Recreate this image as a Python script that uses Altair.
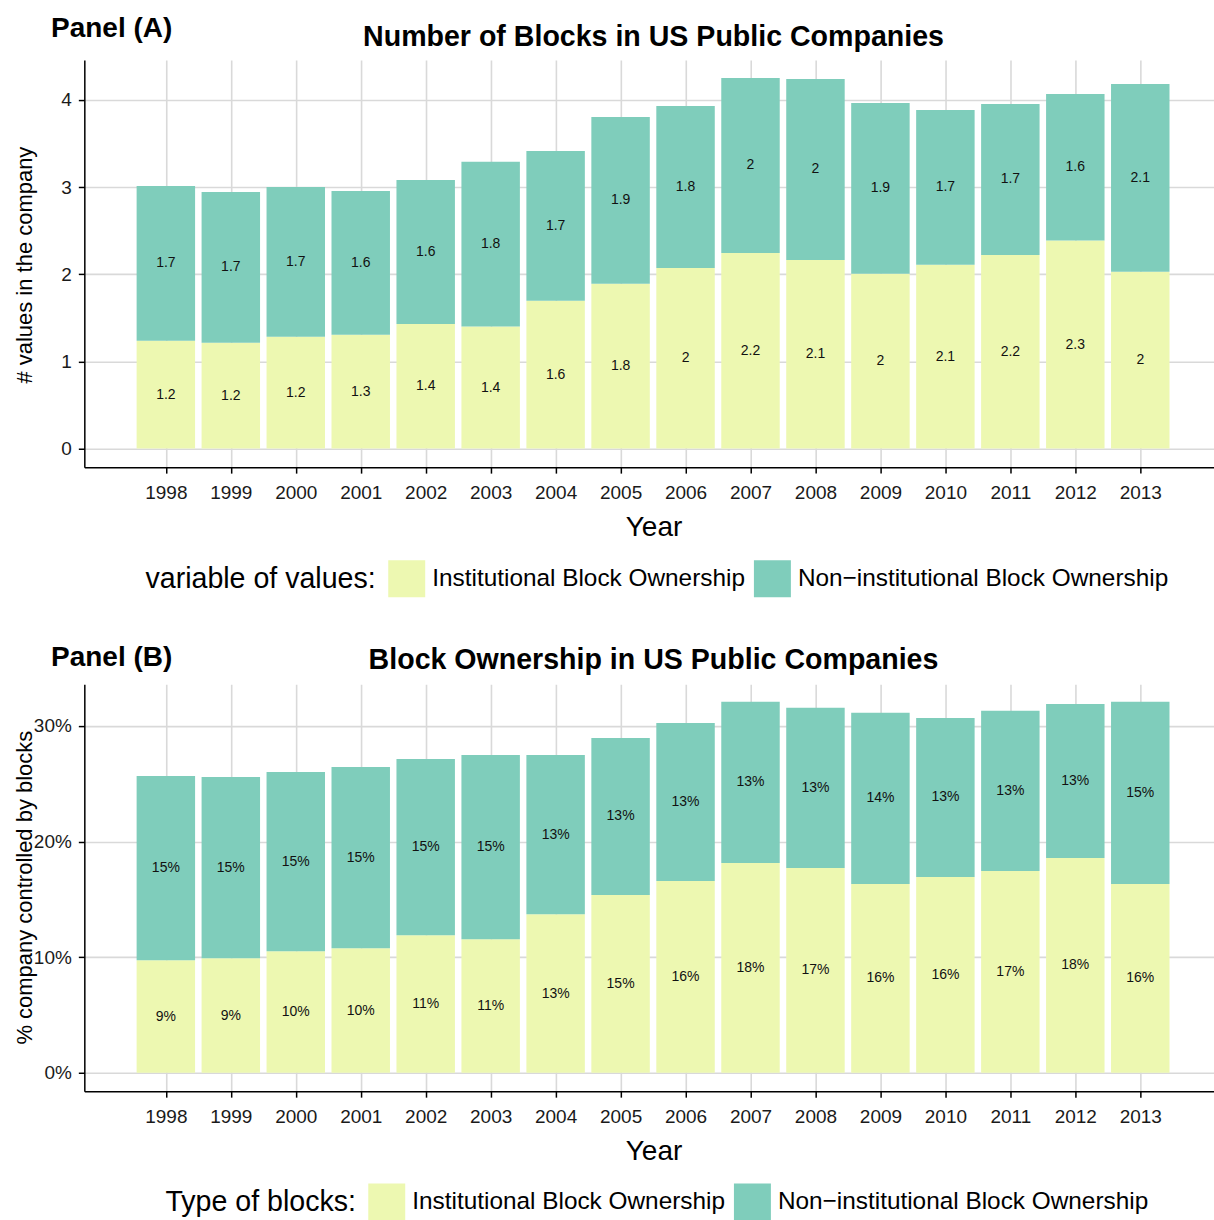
import altair as alt
import pandas as pd

FONT = "Liberation Sans"

years = list(range(1998, 2014))
groups = ["Institutional Block Ownership", "Non\u2212institutional Block Ownership"]
colors = ["#EDF8B1", "#7FCDBB"]

# Panel A: number of blocks per company
blocks_inst = [1.236, 1.215, 1.282, 1.305, 1.431, 1.400, 1.695, 1.890,
               2.073, 2.245, 2.165, 2.005, 2.108, 2.222, 2.387, 2.028]
blocks_noninst = [1.778, 1.730, 1.720, 1.651, 1.652, 1.890, 1.720, 1.915,
                  1.858, 2.007, 2.076, 1.961, 1.777, 1.732, 1.682, 2.155]

# Panel B: percentage of the company held by blocks
share_inst = [9.74, 9.91, 10.52, 10.78, 11.90, 11.56, 13.72, 15.37,
              16.58, 18.14, 17.71, 16.32, 16.93, 17.45, 18.57, 16.32]
share_noninst = [15.93, 15.67, 15.50, 15.67, 15.24, 15.93, 13.77, 13.59,
                 13.68, 13.94, 13.85, 14.81, 13.76, 13.85, 13.33, 15.76]


def long_table(inst, noninst):
    rows = []
    for i, y in enumerate(years):
        rows.append({"year": y, "group": groups[0], "order": 0, "value": inst[i]})
        rows.append({"year": y, "group": groups[1], "order": 1, "value": noninst[i]})
    return pd.DataFrame(rows)


X_DOMAIN = [1996.745, 2014.135]
W = 1130.7
H = 407.4
GRID = "#d9d9d9"


def heading(text, x, y, align, size):
    return alt.Chart(pd.DataFrame({"t": [text]})).mark_text(
        font=FONT, fontSize=size, fontWeight="bold", color="black",
        align=align, baseline="alphabetic",
    ).encode(text="t:N", x=alt.value(x), y=alt.value(y))


def panel(df, y_domain, y_ticks, y_label_expr, y_title, y_title_y, label_expr,
          title, title_y, tag, tag_y, legend_title, legend_x, legend_y):
    xscale = alt.Scale(domain=X_DOMAIN, nice=False, zero=False)
    yscale = alt.Scale(domain=y_domain, nice=False, zero=False)

    base = (
        alt.Chart(df)
        .transform_stack(stack="value", groupby=["year"], as_=["y0", "y1"],
                         sort=[alt.SortField("order", "ascending")])
        .transform_calculate(
            xl="datum.year - 0.45",
            xr="datum.year + 0.45",
            ymid="(datum.y0 + datum.y1) / 2",
            lab=label_expr,
        )
    )

    bars = base.mark_bar(strokeWidth=0).encode(
        x=alt.X("xl:Q", scale=xscale, axis=alt.Axis(
            values=years, format="d", title="Year",
            labelFontSize=19, labelPadding=10, labelColor="#1a1a1a",
            tickSize=6, tickColor="black", tickWidth=1.5,
            domainColor="black", domainWidth=1.5,
            grid=True, gridColor=GRID, gridWidth=1.6,
            titleFontSize=28, titleFontWeight="normal", titleColor="black",
            titleX=569.7, titleY=68.3, titleBaseline="alphabetic",
        )),
        x2="xr:Q",
        y=alt.Y("y0:Q", scale=yscale, axis=alt.Axis(
            values=y_ticks, labelExpr=y_label_expr, title=y_title,
            labelFontSize=19, labelPadding=7, labelColor="#1a1a1a",
            tickSize=6, tickColor="black", tickWidth=1.5,
            domainColor="black", domainWidth=1.5,
            grid=True, gridColor=GRID, gridWidth=1.6,
            titleFontSize=22, titleFontWeight="normal", titleColor="black",
            titleX=-53.3, titleY=y_title_y, titleBaseline="alphabetic",
        )),
        y2="y1:Q",
        color=alt.Color("group:N", scale=alt.Scale(domain=groups, range=colors),
                        legend=alt.Legend(
                            title=legend_title, orient="none",
                            legendX=legend_x, legendY=legend_y,
                            direction="horizontal", titleOrient="left",
                            titleFontSize=28.6, titleFontWeight="normal",
                            titleColor="black", titlePadding=12,
                            titleAnchor="middle", titleBaseline="middle",
                            titleLimit=0, labelLimit=0,
                            labelFontSize=24.4, labelColor="black", labelOffset=7,
                            symbolType="square", symbolSize=1369,
                            symbolStrokeWidth=0, symbolOpacity=1,
                            columnPadding=8, padding=0,
                        )),
    )

    labels = base.mark_text(fontSize=14, font=FONT, color="#111111",
                            baseline="middle", align="center").encode(
        x=alt.X("year:Q", scale=xscale),
        y=alt.Y("ymid:Q", scale=yscale),
        text="lab:N",
    )

    return alt.layer(
        bars, labels,
        heading(tag, -33.3, tag_y, "left", 28),
        heading(title, 569.7, title_y, "center", 28.6),
    ).properties(width=W, height=H)


panel_a = panel(
    long_table(blocks_inst, blocks_noninst),
    [-0.2126, 4.4575], [0, 1, 2, 3, 4], "datum.value",
    "# values in the company", 204.7,
    "'' + floor(datum.value * 10) / 10",
    "Number of Blocks in US Public Companies", -14.3, "Panel (A)", -23.3,
    "variable of values:", 61.2, 500.7,
)

panel_b = panel(
    long_table(share_inst, share_noninst),
    [-1.583, 33.61], [0, 10, 20, 30], "datum.value + '%'",
    "% company controlled by blocks", 203.2,
    "floor(datum.value) + '%'",
    "Block Ownership in US Public Companies", -15.0, "Panel (B)", -18.3,
    "Type of blocks:", 81.2, 499.7,
)

chart = (
    alt.vconcat(panel_a, panel_b, spacing=216.6, bounds="flush")
    .resolve_scale(color="independent", x="independent", y="independent")
    .resolve_legend(color="independent")
    .properties(padding={"left": 12.4, "top": 13.6, "right": 0, "bottom": 0},
                background="white")
    .configure(font=FONT)
    .configure_view(stroke=None)
)

chart.save("out.html", embed_options={"renderer": "svg", "actions": False})
